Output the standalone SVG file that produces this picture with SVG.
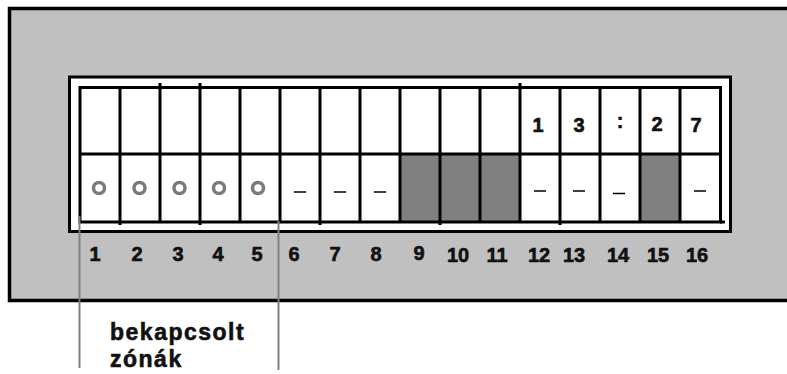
<svg xmlns="http://www.w3.org/2000/svg" width="787" height="374" viewBox="0 0 787 374">
<style>
.grid{stroke:#000;stroke-width:3;fill:none}
.dark{fill:#808080}
.ring{fill:none;stroke:#7a7a7a;stroke-width:3.5}
.dash{stroke:#000;stroke-width:1.6}
.t{font-family:"Liberation Sans",Arial,sans-serif;font-weight:bold;fill:#111;stroke:#111;stroke-width:0.6;text-anchor:middle}
.num{font-size:20px}
.cap{font-size:23px;letter-spacing:1.5px;text-anchor:start}
.lead{stroke:#808080;stroke-width:2;fill:none}
</style>
<rect width="787" height="374" fill="#fff"/>
<g id="panel">
<rect x="9.5" y="8.5" width="790" height="292" fill="#c0c0c0" stroke="#000" stroke-width="3.5"/>
<rect x="69.5" y="77" width="661" height="154.5" fill="#fff" stroke="#000" stroke-width="3"/>
</g>
<g id="display">
<rect class="dark" x="400" y="154" width="120" height="68"/>
<rect class="dark" x="640" y="154" width="40" height="68"/>
<rect class="grid" x="80" y="87.5" width="640.5" height="134.5"/>
<line class="grid" x1="80" y1="154" x2="720" y2="154"/>
<line class="grid" x1="720" y1="222" x2="725" y2="222"/>
<path class="grid" d="M120 87.5V225M160 83V222M200 83V225M240 87.5V222M280 87.5V222M320 87.5V225M360 87.5V222M400 87.5V222M440 87.5V225M480 87.5V222M520 83V222M560 87.5V225M600 87.5V222M640 87.5V222M680 87.5V222"/>
</g>
<g id="row-top">
<text class="t num" x="538" y="132">1</text>
<text class="t num" x="579" y="132">3</text>
<text class="t num" x="620" y="128">:</text>
<text class="t num" x="657" y="131">2</text>
<text class="t num" x="696" y="132">7</text>
</g>
<g id="row-bottom">
<circle class="ring" cx="99" cy="188" r="5.5"/>
<circle class="ring" cx="139.5" cy="188" r="5.5"/>
<circle class="ring" cx="179.5" cy="188" r="5.5"/>
<circle class="ring" cx="219" cy="188" r="5.5"/>
<circle class="ring" cx="258" cy="188" r="5.5"/>
<path class="dash" d="M294 192h12M334 192h12M374 192h12M534 191h12M573 191h12M613 193.5h12M694 191h12"/>
</g>
<g id="zone-numbers">
<text class="t num" x="95" y="261">1</text>
<text class="t num" x="137" y="261">2</text>
<text class="t num" x="178" y="261">3</text>
<text class="t num" x="218" y="261">4</text>
<text class="t num" x="257" y="261">5</text>
<text class="t num" x="294" y="261">6</text>
<text class="t num" x="335" y="261">7</text>
<text class="t num" x="376" y="261">8</text>
<text class="t num" x="419" y="260">9</text>
<text class="t num" x="458" y="262">10</text>
<text class="t num" x="497" y="262">11</text>
<text class="t num" x="539" y="262">12</text>
<text class="t num" x="574" y="262">13</text>
<text class="t num" x="618" y="262">14</text>
<text class="t num" x="658" y="262">15</text>
<text class="t num" x="697" y="262">16</text>
</g>
<g id="connectors">
<line class="lead" x1="79.5" y1="216" x2="79.5" y2="368"/>
<line class="lead" x1="278.5" y1="221" x2="278.5" y2="370"/>
</g>
<g id="caption">
<text class="t cap" x="110" y="340">bekapcsolt</text>
<text class="t cap" x="110" y="367">zónák</text>
</g>
</svg>
